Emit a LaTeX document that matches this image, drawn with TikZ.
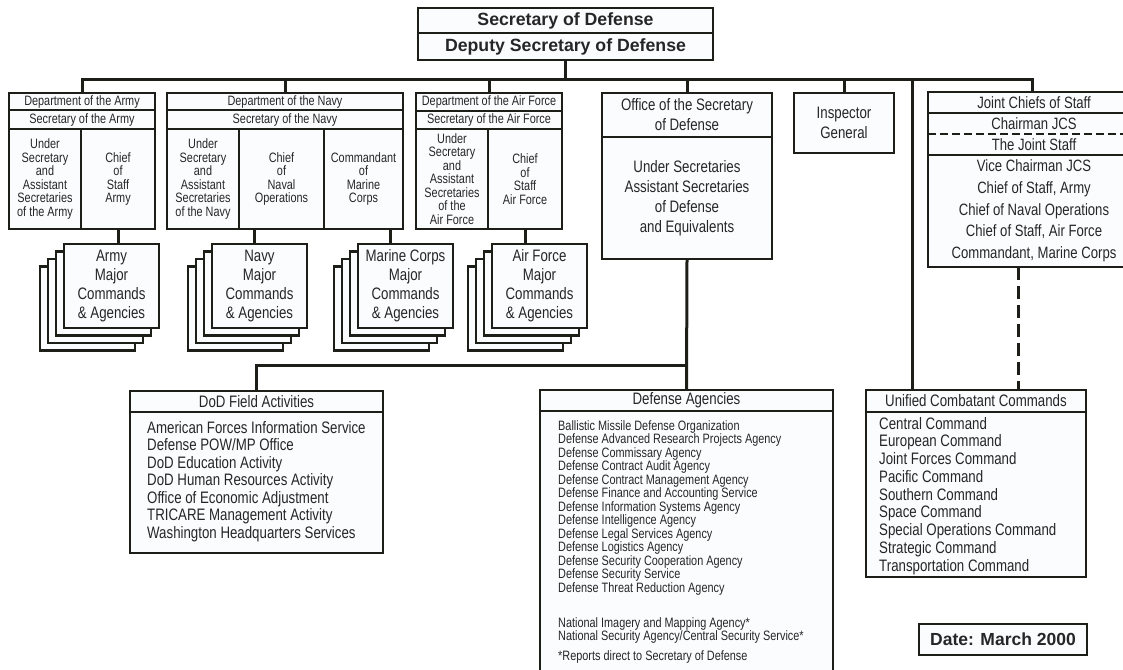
\documentclass[tikz,border=0pt]{standalone}
\usepackage{fontspec}
\setmainfont{Liberation Sans}
\newfontfamily\narrowsans{Liberation Sans}[FakeStretch=0.8]
\usetikzlibrary{positioning}

\definecolor{inkline}{HTML}{1E1E18}
\definecolor{boxfill}{HTML}{FBFCFE}

\tikzset{
  cell/.style={draw=inkline, line width=2.4pt, fill=boxfill, inner sep=0pt, outer sep=0pt,
    align=center, anchor=north west, text=black!85},
  backbox/.style={draw=inkline, line width=2.4pt, fill=boxfill},
  link/.style={draw=inkline, line width=3pt},
  dlink/.style={draw=inkline, line width=3pt, dash pattern=on 13pt off 6pt},
  smalltxt/.style={font=\narrowsans\fontsize{13.6}{13.5}\selectfont},
  stacktxt/.style={font=\narrowsans\fontsize{16.6}{19}\selectfont},
  midtxt/.style={font=\narrowsans\fontsize{16.6}{20}\selectfont},
  jcstxt/.style={font=\narrowsans\fontsize{16.4}{21.7}\selectfont},
  titletxt/.style={font=\bfseries\fontsize{17.7}{20}\selectfont},
  listtxt/.style={inner sep=0pt, anchor=north west, align=left, text=black!85}
}

\begin{document}
\begin{tikzpicture}[x=1pt, y=-1pt]
  \useasboundingbox (0,0) rectangle (1123,669);

  % Secretario y adjunto
  \node[cell, titletxt, minimum width=295pt, minimum height=25pt] (secdef) at (418,8) {Secretary of Defense};
  \node[cell, titletxt, minimum width=295pt, minimum height=27pt, below=0pt of secdef] (depsec) {Deputy Secretary of Defense};

  % Army
  \node[cell, smalltxt, minimum width=146pt, minimum height=17pt] (armydept) at (9,93) {Department of the Army};
  \node[cell, smalltxt, minimum width=146pt, minimum height=19pt, below=0pt of armydept] (armysec) {Secretary of the Army};
  \node[cell, smalltxt, minimum width=72pt, minimum height=100pt, below right=0pt and 0pt of armysec.south west] (armyus) {Under\\Secretary\\and\\Assistant\\Secretaries\\of the Army};
  \node[cell, smalltxt, minimum width=74pt, minimum height=100pt, right=0pt of armyus] (armycos) {Chief\\of\\Staff\\Army};

  % Navy
  \node[cell, smalltxt, minimum width=236pt, minimum height=17pt] (navydept) at (167,93) {Department of the Navy};
  \node[cell, smalltxt, minimum width=236pt, minimum height=19pt, below=0pt of navydept] (navysec) {Secretary of the Navy};
  \node[cell, smalltxt, minimum width=72pt, minimum height=100pt, below right=0pt and 0pt of navysec.south west] (navyus) {Under\\Secretary\\and\\Assistant\\Secretaries\\of the Navy};
  \node[cell, smalltxt, minimum width=85pt, minimum height=100pt, right=0pt of navyus] (navycno) {Chief\\of\\Naval\\Operations};
  \node[cell, smalltxt, minimum width=79pt, minimum height=100pt, right=0pt of navycno] (navycmc) {Commandant\\of\\Marine\\Corps};

  % Air Force
  \node[cell, smalltxt, minimum width=146pt, minimum height=18pt] (afdept) at (416,93) {Department of the Air Force};
  \node[cell, smalltxt, minimum width=146pt, minimum height=18pt, below=0pt of afdept] (afsec) {Secretary of the Air Force};
  \node[cell, smalltxt, minimum width=72pt, minimum height=100pt, below right=0pt and 0pt of afsec.south west] (afus) {Under\\Secretary\\and\\Assistant\\Secretaries\\of the\\Air Force};
  \node[cell, smalltxt, minimum width=74pt, minimum height=100pt, right=0pt of afus] (afcos) {Chief\\of\\Staff\\Air Force};

  % OSD e Inspector
  \node[cell, midtxt, minimum width=170pt, minimum height=44pt] (osdhead) at (602,93) {Office of the Secretary\\of Defense};
  \node[cell, midtxt, minimum width=170pt, minimum height=122pt, below=0pt of osdhead] (osdbody) {Under Secretaries\\Assistant Secretaries\\of Defense\\and Equivalents};
  \node[cell, midtxt, minimum width=100pt, minimum height=60pt] (ighead) at (794,93) {Inspector\\General};

  % Joint Chiefs
  \node[cell, jcstxt, minimum width=212pt, minimum height=21pt] (jcshead) at (928,92) {Joint Chiefs of Staff};
  \node[cell, jcstxt, draw=none, minimum width=212pt, minimum height=21pt, below=0pt of jcshead] (jcschair) {Chairman JCS};
  \node[cell, jcstxt, draw=none, minimum width=212pt, minimum height=21pt, below=0pt of jcschair] (jcsstaff) {The Joint Staff};
  \node[cell, jcstxt, minimum width=212pt, minimum height=112pt, below=0pt of jcsstaff] (jcslist) {Vice Chairman JCS\\Chief of Staff, Army\\Chief of Naval Operations\\Chief of Staff, Air Force\\Commandant, Marine Corps};
  \draw[draw=inkline, line width=2.4pt] (jcschair.north west) rectangle (jcsstaff.south east);
  \draw[draw=inkline, line width=1.8pt, dash pattern=on 8pt off 4pt] (jcschair.south west) -- (jcschair.south east);

  % Mandos mayores (pilas)
  \foreach \sx/\sname/\stext in {64/armymaj/{Army\\Major\\Commands\\\& Agencies},
      212/navymaj/{Navy\\Major\\Commands\\\& Agencies},
      358/marmaj/{Marine Corps\\Major\\Commands\\\& Agencies},
      492/afmaj/{Air Force\\Major\\Commands\\\& Agencies}}{
    \foreach \k in {3,2,1}
      \draw[backbox] (\sx-8*\k,244+7.5*\k) rectangle ++(95,84);
    \node[cell, stacktxt, minimum width=95pt, minimum height=84pt] (\sname) at (\sx,244) {\stext};
  }

  % Cajas inferiores
  \node[cell, midtxt, minimum width=253pt, minimum height=21pt] (dodhead) at (130,391) {DoD Field Activities};
  \node[cell, minimum width=253pt, minimum height=141pt, below=0pt of dodhead] (dodbody) {};
  \node[listtxt, font=\narrowsans\fontsize{16.6}{17.5}\selectfont] (dodlist) at (147,421)
    {American Forces Information Service\\Defense POW/MP Office\\DoD Education Activity\\DoD Human Resources Activity\\Office of Economic Adjustment\\TRICARE Management Activity\\Washington Headquarters Services};

  \node[cell, midtxt, minimum width=293pt, minimum height=21pt] (dahead) at (540,390) {Defense Agencies};
  \node[cell, minimum width=293pt, minimum height=300pt, below=0pt of dahead] (dabody) {};
  \node[listtxt, font=\narrowsans\fontsize{13.6}{13.5}\selectfont] (dalist) at (558,420)
    {Ballistic Missile Defense Organization\\Defense Advanced Research Projects Agency\\Defense Commissary Agency\\Defense Contract Audit Agency\\Defense Contract Management Agency\\Defense Finance and Accounting Service\\Defense Information Systems Agency\\Defense Intelligence Agency\\Defense Legal Services Agency\\Defense Logistics Agency\\Defense Security Cooperation Agency\\Defense Security Service\\Defense Threat Reduction Agency\\[21.5pt]National Imagery and Mapping Agency*\\National Security Agency/Central Security Service*\\[6.5pt]*Reports direct to Secretary of Defense};

  \node[cell, midtxt, minimum width=220pt, minimum height=22pt] (ucchead) at (866,390) {Unified Combatant Commands};
  \node[cell, minimum width=220pt, minimum height=165pt, below=0pt of ucchead] (uccbody) {};
  \node[listtxt, font=\narrowsans\fontsize{16.6}{17.75}\selectfont] (ucclist) at (879,417)
    {Central Command\\European Command\\Joint Forces Command\\Pacific Command\\Southern Command\\Space Command\\Special Operations Command\\Strategic Command\\Transportation Command};

  \node[cell, font=\bfseries\fontsize{17.5}{20}\selectfont, line width=1.6pt, minimum width=168pt, minimum height=31pt] (date) at (919,624) {Date: March 2000};

  % Lineas de mando
  \coordinate (bus) at (0,79);
  \coordinate (fieldbus) at (0,365);
  \draw[link] (depsec.south) -- (depsec.south |- bus);
  \draw[link] (armydept.north) -- (armydept.north |- bus) -- ([xshift=-2pt]jcshead.north |- bus) -- ([xshift=-2pt]jcshead.north);
  \draw[link] (navydept.north) -- (navydept.north |- bus);
  \draw[link] (afdept.north) -- (afdept.north |- bus);
  \draw[link] (osdhead.north) -- (osdhead.north |- bus);
  \draw[link] (ighead.north) -- (ighead.north |- bus);
  \draw[link] ([xshift=-64pt]ucchead.north) -- ([xshift=-64pt]ucchead.north |- bus);
  \draw[dlink] ([xshift=-16pt]jcslist.south) -- ([xshift=-16pt]jcslist.south |- ucchead.north);

  \draw[link] (armycos.south) -- (armycos.south |- armymaj.north);
  \draw[link] ([xshift=-5pt]navymaj.north) -- ([xshift=-5pt]navymaj.north |- navycno.south);
  \draw[link] ([xshift=-15pt]marmaj.north) -- ([xshift=-15pt]marmaj.north |- navycmc.south);
  \draw[link] (afcos.south) -- (afcos.south |- afmaj.north);

  \draw[link] (osdbody.south) -- (dahead.north);
  \draw[link] (osdbody.south |- fieldbus) -| (dodhead.north);
\end{tikzpicture}
\end{document}
